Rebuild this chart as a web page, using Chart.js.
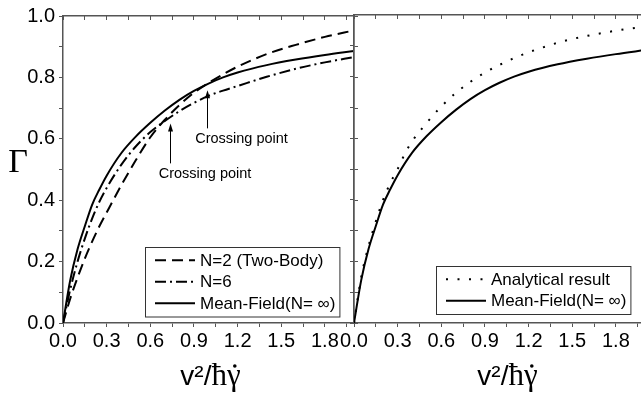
<!DOCTYPE html>
<html>
<head>
<meta charset="utf-8">
<script src="https://cdn.jsdelivr.net/npm/chart.js@4.4.1/dist/chart.umd.min.js"></script>
<style>
  html, body { margin: 0; padding: 0; background: #fff; }
  #wrap { position: relative; width: 641px; height: 396px; overflow: hidden; }
  #leftChart { position: absolute; left: 0; top: 0; }
  #rightChart { position: absolute; left: 330px; top: 0; }
</style>
</head>
<body>
<div id="wrap">
  <canvas id="leftChart" width="380" height="396"></canvas>
  <canvas id="rightChart" width="320" height="396"></canvas>
</div>
<script>
// --- data ---
const xGrid = [0, 0.05, 0.1, 0.15, 0.2, 0.25, 0.3, 0.4, 0.5, 0.6, 0.7, 0.8, 0.9, 1.0, 1.1, 1.2, 1.4, 1.6, 1.8, 2.0];
const meanField = [0, 0.14, 0.24, 0.315, 0.385, 0.435, 0.48, 0.553, 0.607, 0.652, 0.692, 0.727, 0.756, 0.78, 0.80, 0.816, 0.84, 0.858, 0.873, 0.886];
const twoBody = [0, 0.08, 0.148, 0.21, 0.265, 0.315, 0.36, 0.448, 0.53, 0.605, 0.662, 0.71, 0.75, 0.782, 0.81, 0.835, 0.876, 0.906, 0.932, 0.953];
const sixBody = [0, 0.11, 0.2, 0.275, 0.34, 0.395, 0.44, 0.515, 0.575, 0.622, 0.658, 0.69, 0.717, 0.74, 0.757, 0.772, 0.802, 0.828, 0.849, 0.866];

const analyticX = [0, 0.05, 0.1, 0.15, 0.2, 0.25, 0.3, 0.35, 0.4, 0.5, 0.6, 0.7, 0.8, 0.9, 1.0, 1.1, 1.2, 1.3, 1.4, 1.5, 1.6, 1.7, 1.8, 1.9, 2.0];
const analytic = [0, 0.15, 0.25, 0.33, 0.40, 0.455, 0.50, 0.55, 0.59, 0.65, 0.703, 0.747, 0.783, 0.813, 0.838, 0.86, 0.879, 0.895, 0.91, 0.922, 0.932, 0.941, 0.949, 0.956, 0.962];

// tick values (minor + labelled)
const xTicks = [0, 0.15, 0.3, 0.45, 0.6, 0.75, 0.9, 1.05, 1.2, 1.35, 1.5, 1.65, 1.8, 1.95];
const xLabelTicks = [0, 0.3, 0.6, 0.9, 1.2, 1.5, 1.8];
const yTicks = [0, 0.1, 0.2, 0.3, 0.4, 0.5, 0.6, 0.7, 0.8, 0.9, 1.0];
const yLabelTicks = [0, 0.2, 0.4, 0.6, 0.8, 1.0];

// arrows to the crossing points (data coordinates)
const crossText = ["Crossing point", "Crossing point"];
const crossArrowX = [0.99, 0.735];
const crossArrowTip = [0.758, 0.65];
const crossArrowBase = [0.634, 0.52];
const crossTextX = [1.227, 0.976];
const crossTextY = [0.598, 0.485];

const SANS = '"Liberation Sans", Arial, sans-serif';
const SERIF = '"Liberation Serif", "Times New Roman", serif';
const AXIS = '#555';

const pts = (xs, ys) => xs.map((x, i) => ({ x, y: ys[i] }));
const isIn = (list, v) => list.some(t => Math.abs(t - v) < 1e-6);

function line(label, xs, ys, dash) {
  return {
    label,
    data: pts(xs, ys),
    borderColor: '#000',
    borderWidth: 2,
    borderDash: dash,
    pointRadius: 0,
    fill: false,
    cubicInterpolationMode: 'monotone'
  };
}

function xAxis(max, position, labels, size, tickLen) {
  return {
    type: 'linear', position, min: 0, max, display: true,
    grid: { drawOnChartArea: false, drawTicks: true, tickLength: tickLen, tickColor: AXIS, tickWidth: 1 },
    border: { display: true, color: AXIS, width: 1.5 },
    ticks: {
      display: labels, autoSkip: false, maxRotation: 0, minRotation: 0, padding: 2,
      color: '#000', font: { family: SANS, size: 20 },
      callback: v => isIn(xLabelTicks, v) ? v.toFixed(1) : ''
    },
    afterBuildTicks: s => { s.ticks = xTicks.filter(v => v <= max).map(v => ({ value: v })); },
    afterFit: s => { s.height = size; }
  };
}

function yAxis(position, labels, size, tickLen) {
  return {
    type: 'linear', position, min: 0, max: 1, display: true,
    grid: { drawOnChartArea: false, drawTicks: true, tickLength: tickLen, tickColor: AXIS, tickWidth: 1 },
    border: { display: true, color: AXIS, width: 1.5 },
    ticks: {
      display: labels, padding: 4, color: '#000', font: { family: SANS, size: 20 },
      callback: v => isIn(yLabelTicks, v) ? v.toFixed(1) : ''
    },
    afterBuildTicks: s => { s.ticks = yTicks.map(v => ({ value: v })); },
    afterFit: s => { s.width = size; }
  };
}

// legend box inside the plot
const boxLegend = {
  id: 'boxLegend',
  afterDraw(chart, args, opts) {
    const { ctx, chartArea } = chart;
    const items = chart.data.datasets;
    ctx.save();
    ctx.font = '17px ' + SANS;
    const textW = Math.max(...items.map(d => ctx.measureText(d.label).width));
    const rowH = 21.5;
    const w = 10 + 40 + 5 + textW + 4;
    const h = items.length * rowH + 5;
    const x0 = Math.round(opts.right - w);
    const y0 = Math.round(chartArea.bottom - opts.bottom - h);
    ctx.fillStyle = '#fff';
    ctx.fillRect(x0, y0, w, h);
    ctx.strokeStyle = '#333';
    ctx.lineWidth = 1;
    ctx.strokeRect(x0 + 0.5, y0 + 0.5, w, h);
    items.forEach((d, i) => {
      const y = y0 + 2.5 + rowH * (i + 0.5);
      ctx.beginPath();
      ctx.setLineDash(d.borderDash || []);
      ctx.lineWidth = d.borderWidth;
      ctx.strokeStyle = d.borderColor;
      ctx.moveTo(x0 + 10, y);
      ctx.lineTo(x0 + 50, y);
      ctx.stroke();
      ctx.setLineDash([]);
      ctx.fillStyle = '#000';
      ctx.textBaseline = 'middle';
      ctx.textAlign = 'left';
      ctx.fillText(d.label, x0 + 55, y + 1);
    });
    ctx.restore();
  }
};

// axis titles: v²/ħγ with a dot over γ below, Γ at the left
const axisText = {
  id: 'axisText',
  afterDraw(chart, args, opts) {
    const { ctx, chartArea } = chart;
    ctx.save();
    ctx.fillStyle = '#000';
    ctx.textBaseline = 'alphabetic';
    ctx.textAlign = 'left';
    const sans = '28px ' + SANS;
    const serif = '31px ' + SERIF;
    ctx.font = sans;
    const w1 = ctx.measureText('v²/').width;
    ctx.font = serif;
    const wh = ctx.measureText('ħ').width;
    const wg = ctx.measureText('γ').width;
    const cx = (chartArea.left + chartArea.right) / 2 + opts.dx;
    const x = cx - (w1 + wh + wg) / 2;
    const y = chartArea.bottom + 62;
    ctx.font = sans;
    ctx.fillText('v²/', x, y);
    ctx.font = serif;
    ctx.fillText('ħγ', x + w1, y);
    // dot above gamma
    ctx.beginPath();
    ctx.arc(x + w1 + wh + wg / 2 + 1, y - 19, 1.8, 0, Math.PI * 2);
    ctx.fill();
    if (opts.gamma) {
      ctx.font = '34px ' + SERIF;
      ctx.textAlign = 'center';
      ctx.textBaseline = 'middle';
      ctx.fillText('Γ', chartArea.left - 45, (chartArea.top + chartArea.bottom) / 2 - 6);
    }
    ctx.restore();
  }
};

// "Crossing point" arrows
const crossing = {
  id: 'crossing',
  afterDatasetsDraw(chart) {
    const { ctx, scales } = chart;
    const xs = scales.x, ys = scales.y;
    ctx.save();
    ctx.strokeStyle = '#000';
    ctx.fillStyle = '#000';
    ctx.lineWidth = 1;
    crossText.forEach((t, i) => {
      const px = Math.round(xs.getPixelForValue(crossArrowX[i])) + 0.5;
      const tip = ys.getPixelForValue(crossArrowTip[i]);
      const base = ys.getPixelForValue(crossArrowBase[i]);
      ctx.beginPath();
      ctx.moveTo(px, base);
      ctx.lineTo(px, tip + 5);
      ctx.stroke();
      ctx.beginPath();
      ctx.moveTo(px, tip);
      ctx.lineTo(px - 2.5, tip + 8);
      ctx.lineTo(px + 2.5, tip + 8);
      ctx.closePath();
      ctx.fill();
      ctx.font = '14.5px ' + SANS;
      ctx.textAlign = 'center';
      ctx.textBaseline = 'middle';
      ctx.fillText(t, xs.getPixelForValue(crossTextX[i]), ys.getPixelForValue(crossTextY[i]));
    });
    ctx.restore();
  }
};

new Chart(document.getElementById('leftChart'), {
  type: 'line',
  data: {
    datasets: [
      line('N=2 (Two-Body)', xGrid, twoBody, [11, 6]),
      line('N=6', xGrid, sixBody, [11, 4, 2, 4]),
      line('Mean-Field(N= ∞)', xGrid, meanField, [])
    ]
  },
  options: {
    responsive: false,
    animation: false,
    layout: { padding: 0 },
    plugins: {
      legend: { display: false },
      tooltip: { enabled: false },
      boxLegend: { right: 339, bottom: 7 },
      axisText: { dx: 2, gamma: true }
    },
    scales: {
      x: xAxis(2, 'bottom', true, 73, 4),
      xTop: xAxis(2, 'top', false, 15, -4),
      y: yAxis('left', true, 63, 4),
      yRight: yAxis('right', false, 26, 4)
    }
  },
  plugins: [crossing, boxLegend, axisText]
});

new Chart(document.getElementById('rightChart'), {
  type: 'line',
  data: {
    datasets: [
      line('Analytical result', analyticX, analytic, [2, 9.5]),
      line('Mean-Field(N= ∞)', xGrid, meanField, [])
    ]
  },
  options: {
    responsive: false,
    animation: false,
    layout: { padding: 0 },
    plugins: {
      legend: { display: false },
      tooltip: { enabled: false },
      boxLegend: { right: 300, bottom: 9 },
      axisText: { dx: 8, gamma: false }
    },
    scales: {
      x: xAxis(2, 'bottom', true, 73, 4),
      xTop: xAxis(2, 'top', false, 15, -4),
      y: yAxis('left', false, 24, 4),
      yRight: yAxis('right', false, 5, 4)
    }
  },
  plugins: [boxLegend, axisText]
});
</script>
</body>
</html>
